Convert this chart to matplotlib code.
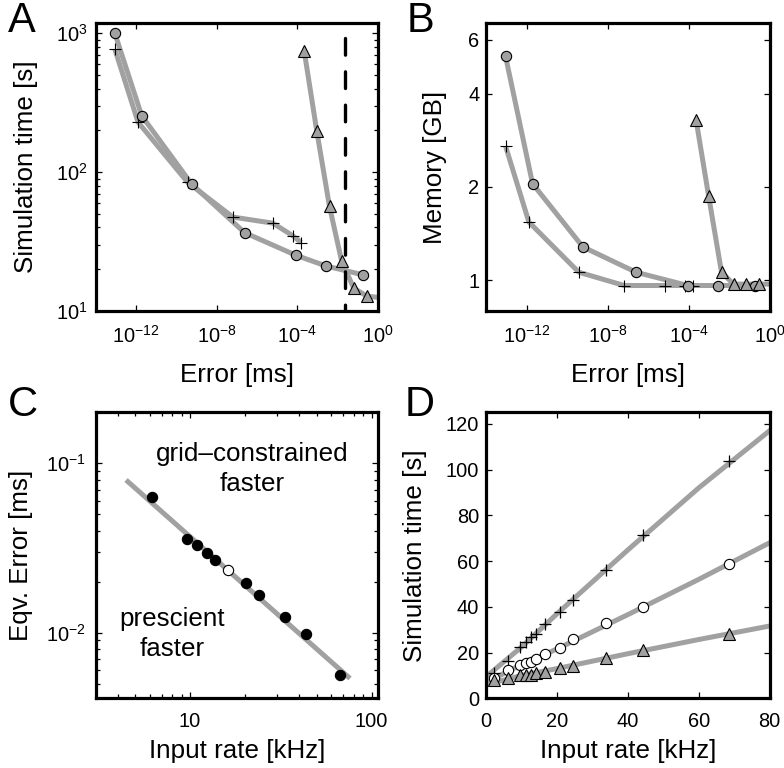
import numpy as np
import matplotlib
matplotlib.use('Agg')
import matplotlib.pyplot as plt
from matplotlib.ticker import FixedLocator, FixedFormatter, NullLocator, NullFormatter

plt.rcParams['font.family'] = ['Liberation Sans', 'DejaVu Sans']
plt.rcParams['mathtext.fontset'] = 'custom'
plt.rcParams['mathtext.rm'] = 'Liberation Sans'
plt.rcParams['mathtext.it'] = 'Liberation Sans:italic'
plt.rcParams['mathtext.bf'] = 'Liberation Sans:bold'

# ---------------- Panel A / B data (error exponents, log10 ms) ----------------
circ_err_exp = [-13.05, -11.72, -9.24, -6.62, -4.07, -2.58, -0.73]
circ_time = [1000, 255, 82, 36.7, 25.2, 21.1, 18.2]
circ_mem = [5.29, 2.05, 1.28, 1.06, 0.96, 0.96, 0.96]

plus_err_exp = [-13.05, -11.90, -9.44, -7.20, -5.21, -4.21, -3.80]
plus_time = [767, 229, 84.4, 47.5, 42.9, 34.7, 31.0]
plus_mem = [2.71, 1.54, 1.06, 0.96, 0.96, 0.96, 0.96]

tri_err_exp = [-3.66, -3.04, -2.405, -1.81, -1.205, -0.555, 0.5]
tri_time = [747, 199, 56.6, 23.1, 14.6, 12.8, 12.3]
tri_mem = [3.30, 1.87, 1.06, 0.97, 0.97, 0.97, 0.97]

threshold_err = 0.022
threshold_span = [920, 10]

ab_xticks = [1e-12, 1e-8, 1e-4, 1e0]
ab_xticklabels = [r'$\mathregular{10^{-12}}$', r'$\mathregular{10^{-8}}$',
                  r'$\mathregular{10^{-4}}$', r'$\mathregular{10^{0}}$']
a_yticks = [10, 100, 1000]
a_yticklabels = [r'$\mathregular{10^{1}}$', r'$\mathregular{10^{2}}$', r'$\mathregular{10^{3}}$']
b_yticks = [1, 2, 4, 6]
b_yticklabels = ['1', '2', '4', '6']

# ---------------- Panel C data ----------------
c_rate = [6.21, 9.6, 11.0, 12.35, 13.8, 20.3, 24.0, 33.4, 43.5, 67.0]
c_err = [0.0633, 0.0359, 0.0328, 0.0297, 0.0268, 0.0197, 0.0166, 0.0124, 0.00977, 0.00562]
c_open_rate = [16.1]
c_open_err = [0.0234]
c_fit_rate = [4.45, 76.0]
c_fit_err = [0.0797, 0.00537]
c_xticks = [10, 100]
c_xticklabels = ['10', '100']
c_yticks = [0.01, 0.1]
c_yticklabels = [r'$\mathregular{10^{-2}}$', r'$\mathregular{10^{-1}}$']
c_text_grid = ['grid\u2013constrained', 'faster']
c_text_presc = ['prescient', 'faster']

# ---------------- Panel D data ----------------
d_rate = [2.3, 6.0, 9.6, 11.3, 12.6, 14.0, 16.5, 20.7, 24.5, 33.9, 44.3, 68.6]
d_plus = [10.9, 16.4, 22.5, 24.7, 26.9, 28.3, 32.4, 37.7, 43.1, 56.2, 71.4, 103.8]
d_circ = [8.7, 12.3, 14.5, 15.5, 16.0, 17.0, 19.3, 22.1, 26.1, 32.9, 39.9, 58.8]
d_tri = [8.0, 9.0, 10.2, 10.4, 10.4, 10.9, 11.6, 13.1, 14.2, 17.4, 21.0, 28.3]
d_fit_rate = [0, 10, 20, 40, 60, 80]
d_fit_plus = [9.5, 22.5, 37.0, 64.9, 92.0, 117.0]
d_fit_circ = [7.0, 14.8, 21.6, 36.6, 52.0, 68.0]
d_fit_tri = [6.0, 10.0, 13.0, 19.5, 25.7, 31.6]
d_ticks_x = [0, 20, 40, 60, 80]
d_ticks_y = [0, 20, 40, 60, 80, 100, 120]

GRAY = '0.63'
LW = 3.6
TICK_FS = 14.4
LABEL_FS = 18.7

W, H = 784, 768
fig = plt.figure(figsize=(W / 100, H / 100), dpi=100)


def add_ax(l, r, t, b):
    return fig.add_axes([l / W, (H - b) / H, (r - l) / W, (b - t) / H])


def style(ax):
    for s in ax.spines.values():
        s.set_linewidth(2.3)
    ax.tick_params(which='both', direction='in', top=True, right=True,
                   width=0.9, labelsize=TICK_FS, colors='k')
    ax.tick_params(which='major', length=4.5)
    ax.tick_params(which='minor', length=3)


def series(ax, x, y, marker, face, ms, mew=0.8):
    ax.plot(x, y, '-', color=GRAY, lw=LW, solid_capstyle='butt', zorder=2)
    ax.plot(x, y, linestyle='none', marker=marker, ms=ms, mfc=face, mec='k',
            mew=mew, zorder=3)


# ---------------- A ----------------
axA = add_ax(95.7, 378.0, 23.3, 311.0)
pe = [10 ** e for e in plus_err_exp]
ce = [10 ** e for e in circ_err_exp]
te = [10 ** e for e in tri_err_exp]
series(axA, pe, plus_time, '+', 'none', 8)
series(axA, ce, circ_time, 'o', GRAY, 7.4)
series(axA, te, tri_time, '^', GRAY, 8)
axA.plot([threshold_err, threshold_err], threshold_span, color='k', lw=2.4,
         dashes=(5, 5), dash_capstyle='round', zorder=4)
axA.set_xscale('log')
axA.set_yscale('log')
axA.set_xlim(1e-14, 1e0)
axA.set_ylim(10, 10 ** 3.072)
axA.xaxis.set_major_locator(FixedLocator(ab_xticks))
axA.xaxis.set_major_formatter(FixedFormatter(ab_xticklabels))
axA.xaxis.set_minor_locator(NullLocator())
axA.yaxis.set_major_locator(FixedLocator(a_yticks))
axA.yaxis.set_major_formatter(FixedFormatter(a_yticklabels))
style(axA)
axA.tick_params(axis='x', pad=10)
axA.tick_params(axis='y', pad=6)
axA.set_xlabel('Error [ms]', fontsize=LABEL_FS)
axA.set_ylabel('Simulation time [s]', fontsize=LABEL_FS)
axA.xaxis.set_label_coords(0.5, -0.18)
axA.yaxis.set_label_coords(-0.205, 0.5)

# ---------------- B ----------------
axB = add_ax(486.3, 770.3, 23.3, 311.0)
series(axB, pe, plus_mem, '+', 'none', 8)
series(axB, ce, circ_mem, 'o', GRAY, 7.4)
series(axB, te, tri_mem, '^', GRAY, 8)
axB.set_xscale('log')
axB.set_yscale('log')
axB.set_xlim(1e-14, 1e0)
axB.set_ylim(0.794, 6.77)
axB.xaxis.set_major_locator(FixedLocator(ab_xticks))
axB.xaxis.set_major_formatter(FixedFormatter(ab_xticklabels))
axB.xaxis.set_minor_locator(NullLocator())
axB.yaxis.set_major_locator(FixedLocator(b_yticks))
axB.yaxis.set_major_formatter(FixedFormatter(b_yticklabels))
axB.yaxis.set_minor_locator(NullLocator())
axB.yaxis.set_minor_formatter(NullFormatter())
style(axB)
axB.tick_params(axis='x', pad=10)
axB.tick_params(axis='y', pad=5)
axB.set_xlabel('Error [ms]', fontsize=LABEL_FS)
axB.set_ylabel('Memory [GB]', fontsize=LABEL_FS)
axB.xaxis.set_label_coords(0.5, -0.18)
axB.yaxis.set_label_coords(-0.138, 0.5)

# ---------------- C ----------------
axC = add_ax(95.7, 378.3, 412.3, 698.3)
axC.plot(c_fit_rate, c_fit_err, '-', color=GRAY, lw=LW, solid_capstyle='butt', zorder=2)
axC.plot(c_rate, c_err, 'o', ms=7.4, mfc='k', mec='k', mew=0.8, zorder=3)
axC.plot(c_open_rate, c_open_err, 'o', ms=7.4, mfc='w', mec='k', mew=0.8, zorder=3)
axC.set_xscale('log')
axC.set_yscale('log')
axC.set_xlim(3.03, 108.8)
axC.set_ylim(0.0041, 0.2)
axC.xaxis.set_major_locator(FixedLocator(c_xticks))
axC.xaxis.set_major_formatter(FixedFormatter(c_xticklabels))
axC.xaxis.set_minor_formatter(NullFormatter())
axC.yaxis.set_major_locator(FixedLocator(c_yticks))
axC.yaxis.set_major_formatter(FixedFormatter(c_yticklabels))
axC.yaxis.set_minor_formatter(NullFormatter())
style(axC)
axC.tick_params(axis='x', pad=10)
axC.tick_params(axis='y', pad=7)
axC.set_xlabel('Input rate [kHz]', fontsize=LABEL_FS)
axC.set_ylabel('Eqv. Error [ms]', fontsize=LABEL_FS)
axC.xaxis.set_label_coords(0.5, -0.142)
axC.yaxis.set_label_coords(-0.222, 0.5)
for txt, (xa, ya) in zip(c_text_grid, [(0.553, 0.831), (0.552, 0.724)]):
    axC.text(xa, ya, txt, transform=axC.transAxes, ha='center', va='baseline',
             fontsize=LABEL_FS)
for txt, (xa, ya) in zip(c_text_presc, [(0.272, 0.254), (0.269, 0.149)]):
    axC.text(xa, ya, txt, transform=axC.transAxes, ha='center', va='baseline',
             fontsize=LABEL_FS)

# ---------------- D ----------------
axD = add_ax(486.3, 769.7, 412.3, 698.3)
axD.plot(d_fit_rate, d_fit_plus, '-', color=GRAY, lw=LW, zorder=2)
axD.plot(d_fit_rate, d_fit_circ, '-', color=GRAY, lw=LW, zorder=2)
axD.plot(d_fit_rate, d_fit_tri, '-', color=GRAY, lw=LW, zorder=2)
axD.plot(d_rate, d_plus, '+', ms=8.5, mec='k', mew=0.9, zorder=3)
axD.plot(d_rate, d_circ, 'o', ms=7.4, mfc='w', mec='k', mew=0.8, zorder=3)
axD.plot(d_rate, d_tri, '^', ms=8, mfc=GRAY, mec='k', mew=0.8, zorder=3)
axD.set_xlim(0, 80)
axD.set_ylim(0, 125)
axD.xaxis.set_major_locator(FixedLocator(d_ticks_x))
axD.yaxis.set_major_locator(FixedLocator(d_ticks_y))
style(axD)
axD.tick_params(axis='x', pad=10)
axD.tick_params(axis='y', pad=5)
axD.set_xlabel('Input rate [kHz]', fontsize=LABEL_FS)
axD.set_ylabel('Simulation time [s]', fontsize=LABEL_FS)
axD.xaxis.set_label_coords(0.5, -0.142)
axD.yaxis.set_label_coords(-0.209, 0.5)

# Panel letters
for letter, x, yb in [('A', 8, 32), ('B', 407, 32), ('C', 8, 416), ('D', 405, 416)]:
    fig.text(x / W, (H - yb) / H, letter, fontsize=30, ha='left', va='baseline')

fig.savefig('out.png', dpi=100)
